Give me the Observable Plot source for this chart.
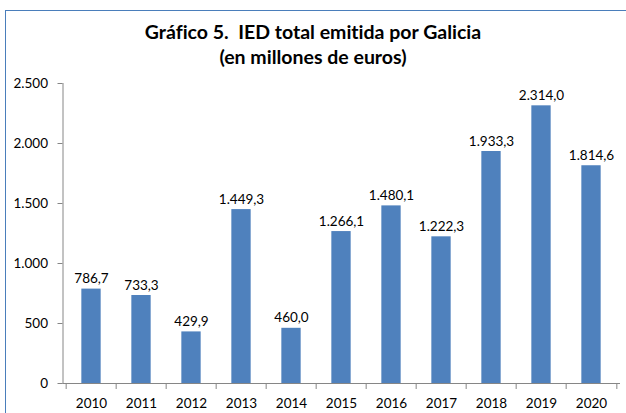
<!DOCTYPE html>
<html>
<head>
<meta charset="utf-8">
<script src="https://cdn.jsdelivr.net/npm/d3@7"></script>
<script src="https://cdn.jsdelivr.net/npm/@observablehq/plot@0.6"></script>
<style>
  html, body { margin: 0; padding: 0; background: #fff; }
  #wrap { position: relative; width: 626px; height: 413px; overflow: hidden; font-family: Lato, "Open Sans", sans-serif; color: #000; font-variant-ligatures: none; }
  #frame { position: absolute; left: 5px; top: 10px; width: 660px; height: 450px; border: 1.5px solid #4a7ebb; box-sizing: border-box; }
  #title { position: absolute; left: 0; width: 626px; top: 19px; text-align: center; font-weight: bold; font-size: 19.5px; line-height: 25px; }
  #chart { position: absolute; left: 0; top: 70px; }
</style>
</head>
<body>
<div id="wrap">
  <div id="frame"></div>
  <div id="title">Gráfico 5.&nbsp; IED total emitida por Galicia<br>(en millones de euros)</div>
  <div id="chart"></div>
</div>
<script>
const years = ["2010","2011","2012","2013","2014","2015","2016","2017","2018","2019","2020"];
const values = [786.7, 733.3, 429.9, 1449.3, 460.0, 1266.1, 1480.1, 1222.3, 1933.3, 2314.0, 1814.6];
const yTicks = [0, 500, 1000, 1500, 2000, 2500];

const data = years.map((y, i) => ({year: y, value: values[i]}));
const loc = d3.formatLocale({decimal: ",", thousands: ".", grouping: [3], currency: ["", " €"]});
const fmtVal = loc.format(",.1f");
const fmtTick = loc.format(",.0f");

const W = 626, H = 343, mL = 62.5, mR = 6, mT = 13, mB = 30;
const bw = (W - mL - mR) / years.length;
const barW = 20;
const inset = (bw - barW) / 2;
const axisColor = "#868686";
const fs = 13.5;

const chart = Plot.plot({
  width: W, height: H,
  marginLeft: mL, marginRight: mR, marginTop: mT, marginBottom: mB,
  style: {fontFamily: "Lato, 'Open Sans', sans-serif", fontSize: fs + "px", color: "#000", background: "transparent", fontVariantLigatures: "none"},
  x: {domain: years, padding: 0, label: null},
  y: {domain: [0, 2500], label: null},
  marks: [
    Plot.barY(data, {x: "year", y: "value", fill: "#4f81bd", insetLeft: inset, insetRight: inset}),
    Plot.text(data, {x: "year", y: "value", text: d => fmtVal(d.value), lineAnchor: "bottom", dy: -6, fill: "#000", fontSize: fs}),
    Plot.axisY({ticks: yTicks, tickFormat: fmtTick, tickSize: 5, tickPadding: 10, stroke: axisColor, fill: "#000", fontSize: fs}),
    Plot.axisX({tickSize: 0, tickPadding: 15, fill: "#000", fontSize: fs}),
    Plot.ruleX(years, {x: d => d, y1: 0, y2: 0, dx: -bw / 2, insetBottom: -6, stroke: axisColor}),
    Plot.ruleX([years[years.length - 1]], {x: d => d, y1: 0, y2: 0, dx: bw / 2, insetBottom: -6, stroke: axisColor}),
    Plot.frame({anchor: "left", stroke: axisColor}),
    Plot.ruleY([0], {stroke: axisColor})
  ]
});
document.getElementById("chart").appendChild(chart);
</script>
</body>
</html>
